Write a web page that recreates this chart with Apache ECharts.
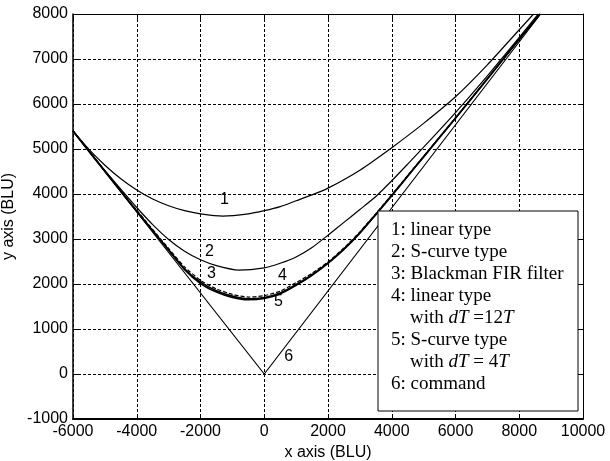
<!DOCTYPE html>
<html>
<head>
<meta charset="utf-8">
<script src="https://cdn.jsdelivr.net/npm/echarts@6/dist/echarts.min.js"></script>
<style>
  html, body { margin: 0; padding: 0; background: #fff; }
  #chart { width: 610px; height: 461px; }
</style>
</head>
<body>
<div id="chart"></div>
<script>
// values (x, y in BLU)
var linearType = [
  [-6000, 5400], [-5500, 4990], [-5000, 4640], [-4500, 4340], [-4000, 4090],
  [-3500, 3890], [-3000, 3740], [-2500, 3630], [-2000, 3560], [-1300, 3510],
  [-500, 3560], [0, 3630], [500, 3720], [1000, 3850], [1500, 3980], [2000, 4130],
  [3000, 4530], [4000, 5030], [5000, 5570], [6000, 6160], [7000, 6870],
  [8000, 7650], [8450, 8000]
]
var sCurveType = [
  [-6000, 5400], [-5500, 4950], [-5000, 4520], [-4500, 4110], [-4000, 3700],
  [-3500, 3320], [-3000, 2990], [-2500, 2730], [-2000, 2540], [-1500, 2410],
  [-800, 2310], [0, 2360], [500, 2460], [1000, 2600], [1500, 2810], [2000, 3085],
  [2500, 3370], [3000, 3655], [3500, 3945], [4000, 4295], [4500, 4665],
  [5000, 5040], [6000, 5810], [7000, 6625], [8000, 7480], [8600, 8000]
]
var blackmanFir = [
  [-6000, 5400], [-5000, 4510], [-4000, 3620], [-3000, 2760], [-2500, 2340],
  [-2000, 2040], [-1500, 1850], [-1000, 1730], [-500, 1670], [0, 1700],
  [500, 1800], [1000, 1990], [1500, 2210], [2000, 2470], [2500, 2780],
  [3000, 3140], [3500, 3550], [4000, 3970], [4500, 4400], [5000, 4830],
  [6000, 5690], [7000, 6560], [8000, 7440], [8650, 8000]
]
var linearDt12 = [
  [-6000, 5400], [-5000, 4520], [-4000, 3640], [-3000, 2790], [-2500, 2380],
  [-2000, 2080], [-1500, 1890], [-1000, 1770], [-500, 1710], [0, 1740],
  [500, 1840], [1000, 2030], [1500, 2240], [2000, 2490], [2500, 2800],
  [3000, 3160], [3500, 3565], [4000, 3985], [4500, 4410], [5000, 4840],
  [6000, 5695], [7000, 6565], [8000, 7445], [8650, 8000]
]
var sCurveDt4 = [
  [-6000, 5400], [-5000, 4500], [-4000, 3610], [-3000, 2750], [-2500, 2320],
  [-2000, 2010], [-1500, 1820], [-1000, 1700], [-500, 1650], [0, 1680],
  [500, 1780], [1000, 1970], [1500, 2195], [2000, 2460], [2500, 2770],
  [3000, 3130], [3500, 3540], [4000, 3960], [4500, 4395], [5000, 4825],
  [6000, 5685], [7000, 6555], [8000, 7440], [8650, 8000]
]
var command = [[-6000, 5400], [0, 0], [8670, 8000]]

// curve numbers written next to the lines
var curveLabels = [
  ['1', -1230, 3870], ['2', -1700, 2710], ['3', -1640, 2220],
  ['4', 590, 2180], ['5', 460, 1600], ['6', 780, 380]
]
var legendLines = [
  '1: linear type',
  '2: S-curve type',
  '3: Blackman FIR filter',
  '4: linear type',
  'with {i|dT} =12{i|T}',
  '5: S-curve type',
  'with {i|dT} = 4{i|T}',
  '6: command'
]

var sansFont = '"Liberation Sans", Arial, sans-serif'
var serifFont = '"Liberation Serif", "Times New Roman", serif'

var chart = echarts.init(document.getElementById('chart'))

function curve(name, data, width, dash, smooth) {
  return {
    name: name,
    type: 'line',
    data: data,
    showSymbol: false,
    smooth: smooth === undefined ? 0.2 : smooth,
    lineStyle: { color: '#000', width: width, type: dash || 'solid' },
    z: dash ? 4 : 3
  }
}

var legendGraphic = [{
  type: 'rect',
  shape: { x: 378, y: 211, width: 200, height: 200 },
  style: { fill: '#fff', stroke: '#000', lineWidth: 1 },
  z: 100
}]
legendLines.forEach(function(txt, i) {
  legendGraphic.push({
    type: 'text',
    x: txt.indexOf('with') === 0 ? 410 : 391,
    y: 230 + i * 22,
    z: 101,
    style: {
      text: txt,
      fill: '#000',
      font: '19px ' + serifFont,
      verticalAlign: 'middle',
      rich: {
        i: { fontStyle: 'italic', fontSize: 19, fontFamily: serifFont, fill: '#000' }
      }
    }
  })
})

function plain(v) { return String(v) }

var option = {
  animation: false,
  backgroundColor: '#fff',
  grid: { left: 73, right: 27, top: 14, bottom: 42, containLabel: false, outerBoundsMode: 'none' },
  xAxis: [
    {
      type: 'value',
      min: -6000,
      max: 10000,
      interval: 2000,
      name: 'x axis (BLU)',
      nameLocation: 'middle',
      nameGap: 25,
      nameTextStyle: { color: '#000', fontSize: 16, fontFamily: sansFont },
      axisLine: { onZero: false, lineStyle: { color: '#000', width: 2 } },
      axisTick: { inside: true, length: 5, lineStyle: { color: '#000' } },
      axisLabel: { color: '#000', fontSize: 16, fontFamily: sansFont, margin: 5, formatter: plain },
      splitLine: { show: true, lineStyle: { color: '#000', type: [3, 2], width: 1 } }
    },
    {
      type: 'value',
      position: 'top',
      min: -6000,
      max: 10000,
      interval: 2000,
      axisLine: { onZero: false, lineStyle: { color: '#000', width: 1 } },
      axisTick: { inside: true, length: 5, lineStyle: { color: '#000' } },
      axisLabel: { show: false },
      splitLine: { show: false }
    }
  ],
  yAxis: [
    {
      type: 'value',
      min: -1000,
      max: 8000,
      interval: 1000,
      name: 'y axis (BLU)',
      nameLocation: 'middle',
      nameGap: 47,
      nameTextStyle: { color: '#000', fontSize: 16, fontFamily: sansFont },
      axisLine: { show: true, onZero: false, lineStyle: { color: '#000', width: 1.5 } },
      axisTick: { show: true, inside: true, length: 5, lineStyle: { color: '#000' } },
      axisLabel: { color: '#000', fontSize: 16, fontFamily: sansFont, margin: 5, formatter: plain },
      splitLine: { show: true, lineStyle: { color: '#000', type: [3, 2], width: 1 } }
    },
    {
      type: 'value',
      position: 'right',
      min: -1000,
      max: 8000,
      interval: 1000,
      axisLine: { show: true, onZero: false, lineStyle: { color: '#000', width: 1 } },
      axisTick: { show: true, inside: true, length: 5, lineStyle: { color: '#000' } },
      axisLabel: { show: false },
      splitLine: { show: false }
    }
  ],
  series: [
    curve('1: linear type', linearType, 1.2),
    curve('2: S-curve type', sCurveType, 1.2),
    curve('3: Blackman FIR filter', blackmanFir, 1.6),
    curve('4: linear type with dT=12T', linearDt12, 1.2, [4, 2]),
    curve('5: S-curve type with dT=4T', sCurveDt4, 1.6),
    curve('6: command', command, 1.2, null, false),
    {
      type: 'scatter',
      symbol: 'circle',
      symbolSize: 1,
      itemStyle: { color: 'rgba(0,0,0,0)', opacity: 1 },
      data: curveLabels.map(function(l) { return { name: l[0], value: [l[1], l[2]] } }),
      label: {
        show: true,
        position: [0, 0],
        align: 'center',
        verticalAlign: 'middle',
        formatter: '{b}',
        color: '#000',
        opacity: 1,
        textBorderWidth: 0,
        fontSize: 16,
        fontFamily: sansFont
      },
      silent: true,
      z: 5
    }
  ],
  graphic: legendGraphic
}

chart.setOption(option)
</script>
</body>
</html>
